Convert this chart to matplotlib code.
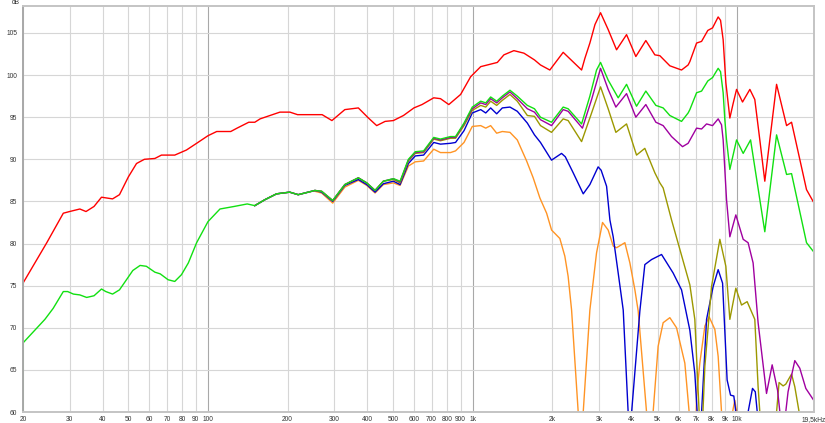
import matplotlib
matplotlib.use('Agg')
import matplotlib.pyplot as plt
from matplotlib.ticker import NullLocator, FixedLocator

plt.rcParams['font.family'] = ['Liberation Sans', 'DejaVu Sans']

# frequency response curves, (Hz, dB)
red = [(20, 75.3), (24.6, 80.1), (28.4, 83.6), (30, 83.8), (32.8, 84.1), (34.6, 83.8), (37.1, 84.4),
       (39.6, 85.5), (43.6, 85.3), (46.3, 85.8), (50, 87.9), (53.7, 89.5), (57.5, 90.0), (63, 90.1),
       (66.7, 90.5), (74.9, 90.5), (82.9, 91.1), (90.6, 91.9), (100, 92.8), (107.9, 93.3), (121.9, 93.3),
       (128.8, 93.7), (142.6, 94.4), (150.3, 94.4), (157.4, 94.8), (171.5, 95.2), (187, 95.6), (204, 95.6),
       (218, 95.3), (270, 95.3), (294, 94.6), (329, 95.9), (370, 96.1), (404, 94.9), (434, 94.0),
       (467, 94.5), (502, 94.6), (548, 95.2), (600, 96.1), (644, 96.5), (713, 97.3), (756, 97.2),
       (813, 96.5), (901, 97.7), (983, 99.8), (1073, 101.0), (1240, 101.5), (1313, 102.4), (1432, 102.9),
       (1563, 102.6), (1713, 101.8), (1805, 101.2), (1958, 100.6), (2199, 102.7), (2581, 100.6),
       (2657, 102.0), (2774, 103.8), (2900, 106.0), (3044, 107.4), (3253, 105.4), (3499, 103.0),
       (3817, 104.8), (4138, 102.2), (4514, 104.1), (4882, 102.4), (5100, 102.3), (5563, 101.1),
       (6159, 100.6), (6522, 101.2), (6621, 101.6), (7020, 103.8), (7332, 104.0), (7740, 105.3),
       (8066, 105.6), (8470, 106.9), (8648, 106.5), (8846, 104.2), (9056, 99.1), (9376, 94.9),
       (9645, 96.6), (9940, 98.3), (10470, 96.8), (11160, 98.3), (11650, 97.1), (12170, 92.3),
       (12710, 87.4), (14080, 98.9), (15360, 94.0), (16040, 94.4), (18270, 86.4), (19350, 85.0)]

green = [(20, 50), (20, 68.2), (24.2, 71.0), (26.0, 72.3), (28.4, 74.3), (29.5, 74.3), (31, 74.0),
         (32.8, 73.9), (34.8, 73.6), (37.1, 73.8), (39.6, 74.6), (41.1, 74.3), (43.6, 74.0), (46.3, 74.5),
         (49.2, 75.7), (52, 76.8), (55.4, 77.4), (58.5, 77.3), (63, 76.6), (66, 76.4), (70.7, 75.7),
         (74.9, 75.5), (79.4, 76.3), (84.3, 77.7), (90.6, 80.1), (100, 82.6), (111, 84.1), (125.5, 84.4),
         (140.7, 84.7), (150.3, 84.5), (164, 85.2), (181.6, 85.9), (203.6, 86.1), (219.2, 85.8),
         (253.6, 86.3), (268.8, 86.2), (296, 85.1), (329, 87.0), (370, 87.8), (398, 87.2), (428, 86.3),
         (460, 87.4), (502, 87.7), (532, 87.4), (572, 90.0), (607, 90.9), (653, 91.0), (713, 92.6),
         (756, 92.4), (825, 92.7), (862, 92.7), (928, 94.3), (997, 96.2), (1073, 96.9), (1121, 96.7),
         (1170, 97.4), (1233, 96.9), (1295, 97.5), (1384, 98.2), (1475, 97.5), (1610, 96.4), (1713, 96.0),
         (1805, 95.0), (1987, 94.4), (2199, 96.2), (2296, 96.0), (2581, 94.2), (2774, 97.5), (2940, 100.6),
         (3044, 101.5), (3253, 99.4), (3549, 97.3), (3817, 98.9), (4163, 96.3), (4514, 98.1), (4926, 96.4),
         (5248, 96.1), (5563, 95.2), (6159, 94.5), (6522, 95.5), (6621, 95.9), (7020, 97.9), (7332, 98.1),
         (7740, 99.3), (8066, 99.7), (8470, 100.8), (8648, 100.4), (8846, 97.9), (8976, 94.7),
         (9110, 92.3), (9376, 88.8), (9940, 92.3), (10530, 90.7), (11230, 92.3), (12710, 81.4),
         (14080, 92.9), (15360, 88.2), (16040, 88.3), (18270, 80.1), (19350, 79.1)]

purple = [(150.3, 84.5), (164, 85.2), (181.6, 85.9), (203.6, 86.1), (219.2, 85.8), (253.6, 86.3),
          (268.8, 86.2), (296, 85.1), (329, 87.0), (370, 87.8), (398, 87.2), (428, 86.3), (460, 87.4),
          (502, 87.7), (532, 87.3), (572, 89.9), (607, 90.8), (653, 90.9), (713, 92.5), (756, 92.3),
          (825, 92.6), (862, 92.6), (928, 94.2), (997, 96.0), (1073, 96.7), (1121, 96.5), (1170, 97.2),
          (1233, 96.7), (1295, 97.3), (1384, 98.0), (1475, 97.2), (1610, 96.0), (1713, 95.6), (1805, 94.7),
          (1987, 94.0), (2199, 95.9), (2296, 95.7), (2600, 93.7), (2816, 97.1), (3044, 100.8), (3253, 98.3),
          (3478, 96.2), (3817, 97.8), (4138, 95.0), (4514, 96.5), (4926, 94.4), (5248, 94.0), (5646, 92.7),
          (6212, 91.5), (6522, 91.9), (7020, 93.7), (7332, 93.6), (7657, 94.2), (8066, 94.0), (8470, 94.8),
          (8722, 94.1), (8846, 92.3), (9110, 85.2), (9376, 80.8), (9878, 83.4), (10530, 80.5),
          (10990, 80.1), (11480, 77.7), (11990, 70.6), (12900, 62.2), (13550, 65.6), (14200, 62.6),
          (14490, 60.0), (14900, 50), (15250, 60.0), (15560, 62.4), (16500, 66.1), (17230, 65.2),
          (18160, 62.8), (19350, 61.5)]

olive = [(150.3, 84.5), (164, 85.2), (181.6, 85.9), (203.6, 86.1), (219.2, 85.8), (253.6, 86.3),
         (268.8, 86.2), (296, 85.1), (329, 87.0), (370, 87.8), (398, 87.2), (428, 86.3), (460, 87.4),
         (502, 87.6), (532, 87.2), (572, 89.8), (607, 90.7), (653, 90.8), (713, 92.4), (756, 92.2),
         (825, 92.5), (862, 92.5), (928, 94.0), (997, 95.8), (1073, 96.4), (1121, 96.2), (1170, 96.9),
         (1233, 96.4), (1295, 97.0), (1384, 97.7), (1475, 96.9), (1610, 95.2), (1713, 95.1), (1805, 94.0),
         (1987, 93.2), (2199, 94.8), (2296, 94.6), (2581, 92.1), (2816, 95.5), (3044, 98.6), (3253, 96.0),
         (3478, 93.2), (3817, 94.2), (4163, 90.5), (4475, 91.3), (4882, 88.4), (5100, 87.2), (5248, 86.6),
         (5646, 82.8), (5897, 80.7), (6621, 75.1), (6913, 71.0), (7178, 60.0), (7300, 50), (7420, 60.0),
         (7544, 65.4), (7996, 74.9), (8596, 80.5), (9056, 77.3), (9376, 71.0), (9878, 74.7),
         (10380, 72.7), (10900, 73.1), (11650, 71.0), (11990, 63.0), (12170, 60.0), (13000, 45),
         (14080, 60.0), (14390, 63.5), (14900, 63.1), (15250, 63.3), (16040, 64.5), (16500, 63.0),
         (17130, 60.0), (17600, 50)]

blue = [(150.3, 84.5), (164, 85.2), (181.6, 85.9), (203.6, 86.1), (219.2, 85.8), (253.6, 86.3),
        (268.8, 86.1), (296, 85.0), (329, 86.9), (370, 87.6), (398, 87.0), (428, 86.1), (460, 87.1),
        (502, 87.4), (532, 87.0), (572, 89.5), (607, 90.4), (653, 90.5), (713, 92.0), (756, 91.8),
        (825, 91.9), (862, 92.0), (928, 93.4), (997, 95.5), (1073, 95.9), (1121, 95.5), (1170, 96.1),
        (1233, 95.4), (1295, 96.1), (1384, 96.2), (1475, 95.7), (1610, 94.3), (1713, 92.9), (1805, 92.0),
        (1987, 89.9), (2168, 90.7), (2240, 90.3), (2399, 88.4), (2618, 85.9), (2774, 87.0), (2981, 89.1),
        (3060, 88.7), (3208, 86.8), (3302, 82.8), (3398, 80.8), (3549, 76.5), (3708, 72.1), (3870, 60.0),
        (3930, 45), (3989, 60.0), (4286, 72.0), (4475, 77.5), (4745, 78.1), (5176, 78.7), (5725, 76.5),
        (6159, 74.5), (6621, 69.7), (6913, 64.6), (7056, 60.0), (7190, 45), (7332, 60.0), (7657, 71.0),
        (8109, 74.9), (8470, 76.9), (8801, 75.3), (9157, 63.8), (9432, 62.0), (9707, 61.9), (9878, 60.0),
        (10400, 45), (10990, 60.0), (11420, 62.8), (11700, 62.4), (11900, 60.0), (12300, 45)]

orange = [(253.6, 86.2), (268.8, 86.0), (296, 84.8), (329, 86.7), (370, 87.5), (398, 86.9), (428, 86.0),
          (460, 87.0), (502, 87.2), (532, 86.9), (572, 89.2), (607, 89.7), (653, 89.8), (713, 91.2),
          (756, 90.8), (825, 90.8), (862, 91.0), (928, 92.0), (997, 93.9), (1073, 94.0), (1121, 93.7),
          (1170, 94.0), (1233, 93.1), (1295, 93.3), (1384, 93.2), (1475, 92.3), (1600, 89.8), (1694, 87.8),
          (1796, 85.4), (1904, 83.6), (1988, 81.6), (2136, 80.6), (2231, 78.5), (2296, 76.1), (2366, 72.1),
          (2506, 60.0), (2560, 45), (2618, 60.0), (2774, 72.1), (2940, 78.9), (3097, 82.5), (3253, 81.6),
          (3398, 79.7), (3499, 79.5), (3762, 80.1), (3929, 77.7), (4104, 74.5), (4223, 72.0), (4542, 60.0),
          (4680, 45), (4810, 60.0), (5024, 67.8), (5248, 70.6), (5563, 71.2), (5897, 70.0), (6338, 65.8),
          (6580, 60.0), (6800, 45), (7020, 61.8), (7220, 65.8), (7544, 70.2), (7830, 71.3), (8230, 69.8),
          (8470, 66.6), (8722, 60.0), (9200, 45), (9600, 60.0), (9792, 61.4), (9950, 60.0), (10300, 45)]

x_ticks = [20, 30, 40, 50, 60, 70, 80, 90, 100, 200, 300, 400, 500, 600, 700, 800, 900,
           1000, 2000, 3000, 4000, 5000, 6000, 7000, 8000, 9000, 10000, 19500]
x_labels = ['20', '30', '40', '50', '60', '70', '80', '90', '100', '200', '300', '400', '500', '600',
            '700', '800', '900', '1k', '2k', '3k', '4k', '5k', '6k', '7k', '8k', '9k', '10k', '19,5kHz']
y_ticks = [60, 65, 70, 75, 80, 85, 90, 95, 100, 105]

curves = [(red, '#ff0000'), (orange, '#ff9424'), (blue, '#0000d0'),
          (olive, '#9c9800'), (purple, '#a000a0'), (green, '#11e011')]

fig = plt.figure(figsize=(8.25, 4.23), dpi=100)
ax = fig.add_axes([23 / 825, 11 / 423, 791 / 825, 406 / 423])
ax.set_xscale('log')

for data, col in curves:
    f, db = zip(*data)
    ax.plot(f, db, color=col, lw=1.0, solid_joinstyle='round')

ax.set_xlim(20, 19500)
ax.set_ylim(60, 108.2)
ax.xaxis.set_major_locator(FixedLocator(x_ticks))
ax.xaxis.set_minor_locator(NullLocator())
ax.set_xticklabels(x_labels)
ax.set_yticks(y_ticks)
ax.set_yticklabels([str(v) for v in y_ticks])
ax.tick_params(axis='both', length=0, labelsize=4.8, colors='#333333')
ax.tick_params(axis='x', pad=3.0)
ax.tick_params(axis='y', pad=4.2)
# last label sits flush with the right edge, like the original
ax.get_xticklabels()[-1].set_horizontalalignment('center')

ax.grid(True, color='#d6d6d6', lw=0.8)
ax.set_axisbelow(True)
for t, gl in zip(x_ticks, ax.get_xgridlines()):
    if t in (100, 1000, 10000):
        gl.set_color('#a8a8a8')

for s in ax.spines.values():
    s.set_color('#c4c4c4')
    s.set_linewidth(1.4)
ax.spines['left'].set_color('#a8a8a8')

fig.text(16 / 825, 1 - 2.5 / 423, 'dB', fontsize=4.8, color='#333333', ha='center', va='center')

plt.savefig('out.png', dpi=100)
